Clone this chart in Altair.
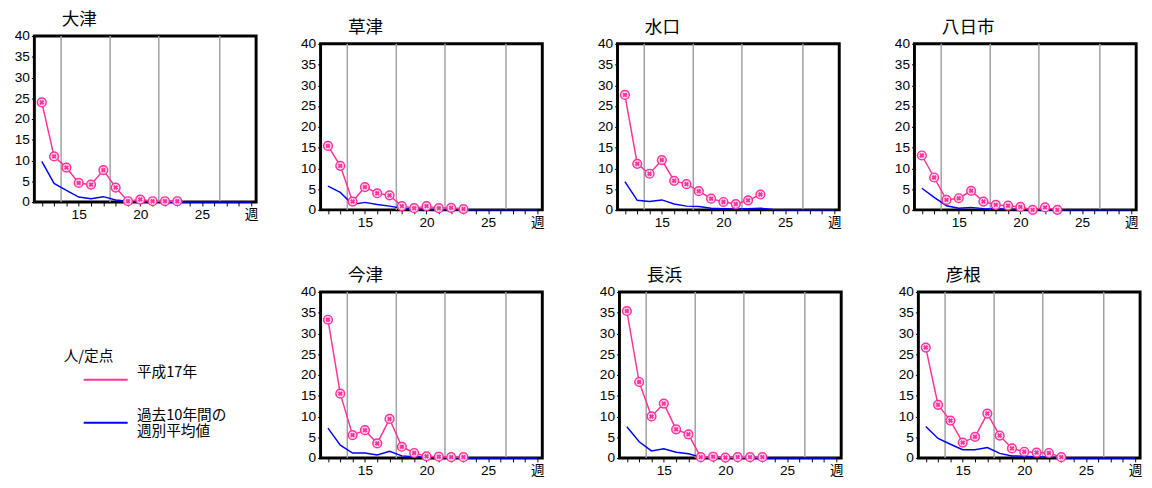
import altair as alt
import pandas as pd

JP = "Noto Sans CJK JP"
NUM = "Liberation Sans, Noto Sans CJK JP"
PINK = "#ff3399"
BLUE = "#0000ff"
S1 = "平成17年"
S2 = "過去10年間の週別平均値"

weeks_pink = [12, 13, 14, 15, 16, 17, 18, 19, 20, 21, 22, 23]
weeks_blue = [12, 13, 14, 15, 16, 17, 18, 19, 20, 21, 22, 23, 24, 25, 26, 27, 28, 29]
month_lines = [13.57, 17.55, 21.5, 26.45]
x_ticks = weeks_blue

otsu_2005 = [24, 11, 8.3, 4.6, 4.2, 7.7, 3.5, 0.2, 0.6, 0.2, 0.2, 0.2]
otsu_avg = [9.8, 4.5, 2.8, 1.2, 0.8, 1.3, 0.5, 0.2, 0.1, 0.1, 0, 0, 0, 0, 0, 0, 0, 0]
kusatsu_2005 = [15.4, 10.6, 2.0, 5.5, 4.0, 3.5, 0.9, 0.4, 0.9, 0.4, 0.5, 0.2]
kusatsu_avg = [5.7, 4.2, 1.3, 1.8, 1.3, 0.9, 0.4, 0.2, 0.1, 0.1, 0.1, 0, 0, 0, 0, 0, 0, 0]
minakuchi_2005 = [27.7, 11.1, 8.7, 12.0, 7.0, 6.2, 4.5, 2.7, 1.9, 1.4, 2.3, 3.7]
minakuchi_avg = [6.8, 2.3, 2.0, 2.4, 1.4, 0.9, 0.8, 0.4, 0.3, 0.2, 0.3, 0.4, 0.1, 0, 0, 0, 0, 0]
youkaichi_2005 = [13.1, 7.8, 2.4, 2.8, 4.6, 2.0, 1.2, 1.0, 0.7, 0.0, 0.6, 0.0]
youkaichi_avg = [5.2, 3.0, 1.0, 0.4, 0.6, 0.3, 0.2, 0.2, 0.1, 0.1, 0, 0, 0, 0, 0, 0, 0, 0]
imazu_2005 = [33.3, 15.5, 5.5, 6.7, 3.5, 9.4, 2.7, 1.2, 0.4, 0.3, 0.2, 0.2]
imazu_avg = [7.2, 3.1, 1.2, 1.2, 0.7, 1.6, 0.5, 0.3, 0.2, 0.1, 0.1, 0, 0, 0, 0, 0, 0, 0]
nagahama_2005 = [35.4, 18.3, 10.0, 13.1, 6.9, 5.7, 0.2, 0.3, 0.1, 0.2, 0.2, 0.2]
nagahama_avg = [7.5, 3.9, 1.7, 2.2, 1.4, 1.0, 0.2, 0.1, 0.1, 0, 0, 0, 0, 0, 0, 0, 0, 0]
hikone_2005 = [26.6, 12.8, 9.0, 3.7, 5.1, 10.7, 5.4, 2.3, 1.5, 1.3, 1.2, 0.2]
hikone_avg = [7.6, 4.7, 3.3, 2.0, 2.0, 2.5, 1.1, 0.5, 0.4, 0.3, 0.2, 0.1, 0, 0, 0, 0, 0, 0]

W, H = 227, 170

xscale = alt.Scale(domain=[11.4, 29.4], nice=False, zero=False)
yscale = alt.Scale(domain=[0, 40], nice=False)
xaxis = alt.Axis(values=x_ticks, grid=False, domain=False, tickSize=4, tickColor="black",
                 labelExpr="datum.value == 29 ? '週' : (datum.value % 5 == 0 ? datum.label : '')",
                 labelOverlap=False, labelFlush=False, labelFont=NUM, labelFontSize=14,
                 labelColor="black", labelPadding=2)
yaxis = alt.Axis(values=[0, 5, 10, 15, 20, 25, 30, 35, 40], grid=False, domain=False, tickSize=3,
                 tickColor="black", labelFont=NUM, labelFontSize=14, labelColor="black",
                 labelPadding=2, minExtent=25, maxExtent=25)


def panel(name, p_vals, b_vals, legend=False):
    dp = pd.DataFrame({"week": weeks_pink, "value": p_vals, "series": S1})
    db = pd.DataFrame({"week": weeks_blue, "value": b_vals, "series": S2})
    x = alt.X("week:Q", scale=xscale, axis=xaxis, title=None)
    y = alt.Y("value:Q", scale=yscale, axis=yaxis, title=None)
    if legend:
        lg = alt.Legend(orient="none", legendX=30, legendY=321, title="人/定点",
                        titleFont=JP, titleFontSize=15, titleFontWeight="normal",
                        titleColor="black", titlePadding=6, labelFont=JP, labelFontSize=15,
                        labelColor="black", symbolType="M-2.5,0H2.5", symbolSize=324,
                        symbolStrokeWidth=2, symbolOffset=33, labelOffset=22, rowPadding=25,
                        labelLimit=300, labelBaseline="bottom",
                        labelExpr="datum.label == '過去10年間の週別平均値' ? ['過去10年間の', '週別平均値'] : datum.label")
    else:
        lg = None
    color = alt.Color("series:N", scale=alt.Scale(domain=[S1, S2], range=[PINK, BLUE]), legend=lg)
    grid = alt.Chart(pd.DataFrame({"week": month_lines})).mark_rule(
        color="#a0a0a0", strokeWidth=1.5).encode(x=x)
    blue = alt.Chart(db).mark_line(strokeWidth=1.5).encode(x=x, y=y, color=color)
    pink = alt.Chart(dp).mark_line(strokeWidth=1.5).encode(x=x, y=y, color=color)
    pts = alt.Chart(dp).mark_point(shape="circle", filled=True, fill="#ffd6ec", stroke=PINK,
                                   strokeWidth=1.5, size=80, opacity=1).encode(x=x, y=y)
    crs = alt.Chart(dp).mark_point(shape="cross", filled=True, color=PINK, angle=45,
                                   size=26, opacity=1).encode(x=x, y=y)
    return alt.layer(grid, blue, pink, pts, crs).properties(
        width=W, height=H,
        title=alt.TitleParams(text=name, anchor="start", frame="group", dx=28, offset=0,
                              font=JP, fontSize=18, fontWeight="normal", color="black"),
        view=alt.ViewBackground(stroke="black", strokeWidth=3),
    )


otsu = panel("大津", otsu_2005, otsu_avg, legend=True)
kusatsu = panel("草津", kusatsu_2005, kusatsu_avg)
minakuchi = panel("水口", minakuchi_2005, minakuchi_avg)
youkaichi = panel("八日市", youkaichi_2005, youkaichi_avg)
imazu = panel("今津", imazu_2005, imazu_avg)
nagahama = panel("長浜", nagahama_2005, nagahama_avg)
hikone = panel("彦根", hikone_2005, hikone_avg)

spacer = alt.Chart(pd.DataFrame({"a": [0]})).mark_rule(opacity=0).encode(
    x=alt.value(0), x2=alt.value(1), y=alt.value(0)
).properties(width=1, height=1, view=alt.ViewBackground(stroke=None))

row1 = alt.hconcat(kusatsu, minakuchi, youkaichi, spacing=46)
row2 = alt.hconcat(imazu, nagahama, hikone, spacing=48)
inner = alt.vconcat(row1, row2, spacing=35)
right = alt.vconcat(spacer, inner, spacing=-20)

chart = alt.hconcat(otsu, right, spacing=35).resolve_scale(
    color="independent").resolve_legend(color="independent").properties(
    padding={"left": 0, "top": -4, "right": 0, "bottom": 0}
).configure(background="white")

chart.save("out.html", embed_options={"renderer": "svg", "actions": False})
